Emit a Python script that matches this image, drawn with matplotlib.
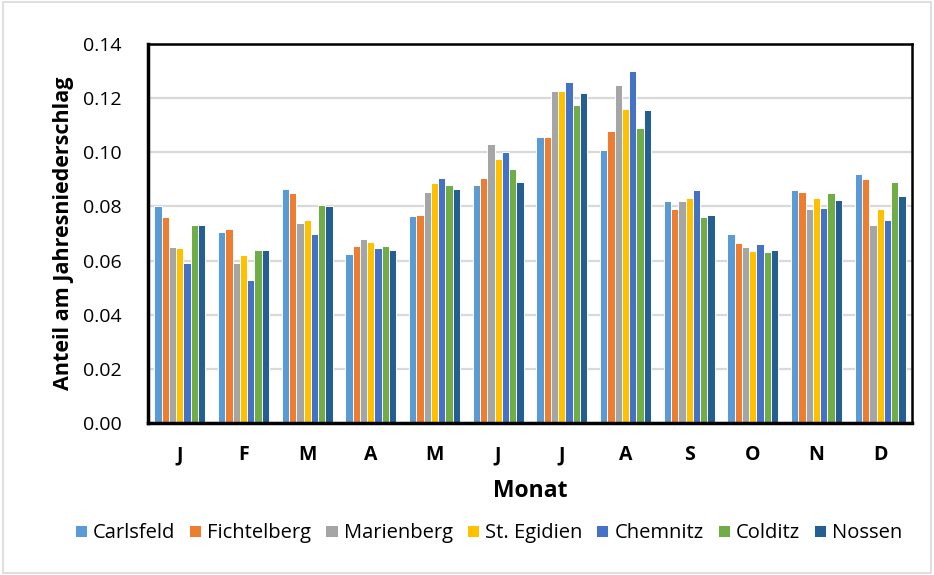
import numpy as np
import matplotlib
matplotlib.use("Agg")
import matplotlib.pyplot as plt
from matplotlib.patches import Rectangle

months = ["J", "F", "M", "A", "M", "J", "J", "A", "S", "O", "N", "D"]
stations = ["Carlsfeld", "Fichtelberg", "Marienberg", "St. Egidien",
            "Chemnitz", "Colditz", "Nossen"]
colors = ["#5B9BD5", "#ED7D31", "#A5A5A5", "#FFC000",
          "#4472C4", "#70AD47", "#255E91"]

carlsfeld   = [0.080, 0.0705, 0.0865, 0.0625, 0.0765, 0.088, 0.1055, 0.101, 0.082, 0.070, 0.086, 0.092]
fichtelberg = [0.076, 0.0715, 0.085, 0.0655, 0.077, 0.0905, 0.1055, 0.108, 0.079, 0.0665, 0.0855, 0.090]
marienberg  = [0.065, 0.059, 0.074, 0.068, 0.0855, 0.103, 0.1225, 0.125, 0.082, 0.065, 0.079, 0.073]
st_egidien  = [0.0645, 0.062, 0.075, 0.067, 0.0885, 0.0975, 0.1225, 0.116, 0.083, 0.0635, 0.083, 0.079]
chemnitz    = [0.059, 0.053, 0.070, 0.0645, 0.0905, 0.100, 0.126, 0.130, 0.086, 0.066, 0.0795, 0.075]
colditz     = [0.073, 0.064, 0.0805, 0.0655, 0.088, 0.094, 0.1175, 0.109, 0.076, 0.063, 0.085, 0.089]
nossen      = [0.073, 0.064, 0.080, 0.064, 0.0865, 0.089, 0.122, 0.1155, 0.077, 0.064, 0.0825, 0.084]

series = [carlsfeld, fichtelberg, marienberg, st_egidien, chemnitz, colditz, nossen]

plt.rcParams["font.family"] = ["Open Sans", "DejaVu Sans"]

fig = plt.figure(figsize=(9.34, 5.75), dpi=100)
ax = fig.add_axes([148 / 934, 1 - 423 / 575, (912 - 148) / 934, (423 - 44) / 575])

x = np.arange(len(months))
n = len(series)
width = 0.114
for i, (vals, col, name) in enumerate(zip(series, colors, stations)):
    offs = (i - (n - 1) / 2) * width
    ax.bar(x + offs, vals, width=width, color=col, edgecolor="white",
           linewidth=0.7, label=name, zorder=3)

ax.set_xlim(-0.5, len(months) - 0.5)
ax.set_ylim(0, 0.14)
yt = np.arange(0, 0.141, 0.02)
ax.set_yticks(yt)
ax.set_yticklabels([f"{v:.2f}" for v in yt], fontsize=14)
ax.set_xticks(x)
ax.set_xticklabels(months, fontsize=14, fontweight="bold")
ax.tick_params(axis="y", length=0, pad=19)
ax.tick_params(axis="x", length=0, pad=16)
ax.yaxis.grid(True, color="#D9D9D9", linewidth=1.6, zorder=0)
ax.set_axisbelow(True)

for side in ["left", "bottom"]:
    ax.spines[side].set_linewidth(2.5)
for side in ["top", "right"]:
    ax.spines[side].set_linewidth(1.8)
for sp in ax.spines.values():
    sp.set_color("black")
    sp.set_zorder(5)

ax.set_xlabel("Monat", fontsize=16.5, fontweight="bold", labelpad=10)
ax.set_ylabel("Anteil am Jahresniederschlag", fontsize=15.5, fontweight="bold")
ax.yaxis.label.set_verticalalignment("center")
ax.yaxis.set_label_coords((63 - 148) / 764, 0.5)

fig.legend(loc="center", bbox_to_anchor=(0.523, 1 - 533 / 575), ncol=7,
           frameon=False, fontsize=14.5, handlelength=0.6, handleheight=0.6,
           handletextpad=0.3, columnspacing=0.7)

# chart area border
fig.patches.append(Rectangle((0.003, 0.003), 0.994, 0.994, transform=fig.transFigure,
                             fill=False, edgecolor="#D9D9D9", linewidth=1.2))

fig.savefig("out.png", dpi=100)
